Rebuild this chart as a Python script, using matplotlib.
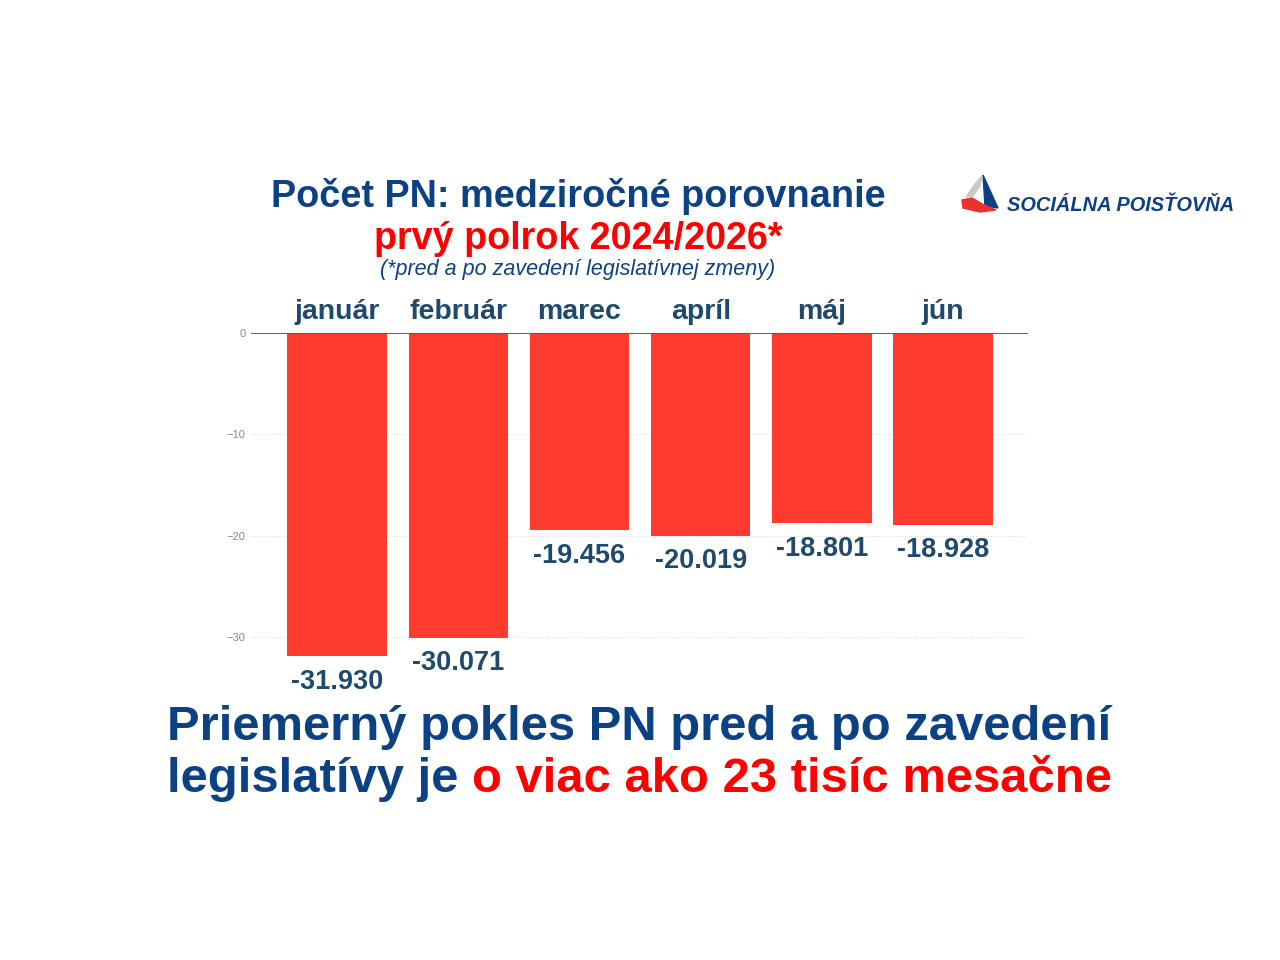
import matplotlib
matplotlib.use("Agg")
import matplotlib.pyplot as plt
from matplotlib.patches import Polygon

plt.rcParams['font.family'] = ['Liberation Sans', 'DejaVu Sans']

# pocet PN - medzirocny rozdiel (v tisicoch)
months = ['január', 'február', 'marec', 'apríl', 'máj', 'jún']
diff = [-31.930, -30.071, -19.456, -20.019, -18.801, -18.928]
labels = ['-31.930', '-30.071', '-19.456', '-20.019', '-18.801', '-18.928']
yticks = [0, -10, -20, -30]

BLUE = '#0c4184'
DARK = '#1f4a6e'
RED = '#ff0000'
BAR = '#ff3b30'

W, H = 1280, 960
fig = plt.figure(figsize=(12.8, 9.6), dpi=100)

def px(x, y):
    return x / W, 1 - y / H

ax = fig.add_axes([251 / W, 1 - 687.6 / H, (1028 - 251) / W, 354.6 / H])
x = list(range(len(months)))
ax.bar(x, diff, width=0.82, color=BAR, zorder=2)
ax.set_xlim(-0.71, 5.7)
ax.set_ylim(-35, 0)
ax.set_yticks(yticks)
ax.tick_params(axis='y', length=0, labelsize=8, labelcolor='#888888', pad=4)
ax.set_xticks([])
for s in ax.spines.values():
    s.set_visible(False)
ax.axhline(0, color='#555555', lw=1.3, zorder=3)
for t in yticks[1:]:
    ax.axhline(t, color='#dddddd', lw=0.8, ls=':', zorder=1)

for i, (m, v, lab) in enumerate(zip(months, diff, labels)):
    ax.annotate(m, (i, 0), xytext=(0, 6), textcoords='offset points',
                ha='center', va='bottom', fontsize=20.5, fontweight='bold', color=DARK)
    ax.annotate(lab, (i, v), xytext=(0, -9), textcoords='offset points',
                ha='center', va='top', fontsize=19.5, fontweight='bold', color=DARK)

# nadpis
fig.text(*px(578, 207), 'Počet PN: medziročné porovnanie', ha='center', va='baseline',
         fontsize=27.3, fontweight='bold', color=BLUE)
fig.text(*px(578, 249), 'prvý polrok 2024/2026*', ha='center', va='baseline',
         fontsize=27.2, fontweight='bold', color=RED)
fig.text(*px(578, 275), '(*pred a po zavedení legislatívnej zmeny)', ha='center', va='baseline',
         fontsize=15.5, fontstyle='italic', color=BLUE)

# logo
fig.patches.append(Polygon([px(983, 175), px(998, 208), px(985, 206)], closed=True,
                           transform=fig.transFigure, color='#0c3f87'))
fig.patches.append(Polygon([px(982, 176), px(975, 184), px(966, 197), px(973, 196), px(980, 186)],
                           closed=True, transform=fig.transFigure, color='#c8c8c8'))
fig.patches.append(Polygon([px(962, 200), px(972, 198), px(984, 205), px(996, 210), px(980, 212), px(963, 208)],
                           closed=True, transform=fig.transFigure, color='#e8322b'))
fig.text(*px(1007, 211), 'SOCIÁLNA POISŤOVŇA', ha='left', va='baseline',
         fontsize=14.4, fontweight='bold', fontstyle='italic', color='#0c3f87')

# zaver
fig.text(*px(167, 740), 'Priemerný pokles PN pred a po zavedení', ha='left', va='baseline',
         fontsize=35.3, fontweight='bold', color=BLUE)
t1 = fig.text(*px(167, 792), 'legislatívy je ', ha='left', va='baseline',
              fontsize=35.3, fontweight='bold', color=BLUE)
fig.canvas.draw()
bb = t1.get_window_extent()
fig.text(bb.x1 / W, 1 - 792 / H, 'o viac ako 23 tisíc mesačne', ha='left', va='baseline',
         fontsize=35.3, fontweight='bold', color=RED)

fig.savefig('out.png', dpi=100, facecolor='white')
